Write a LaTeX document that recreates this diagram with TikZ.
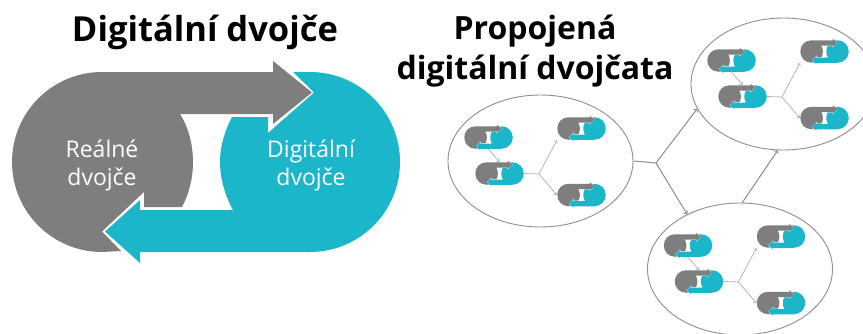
\documentclass[tikz,border=0pt]{standalone}
\usepackage{fontspec}
\setmainfont{Open Sans}
\usetikzlibrary{arrows}
\usetikzlibrary{shapes.geometric}
\definecolor{SedaDvojce}{HTML}{7F7E7F}
\definecolor{TyrkysDvojce}{HTML}{1CB6CA}
\definecolor{SedaCara}{HTML}{8C8C8C}
\definecolor{SedaSpoj}{HTML}{B4B4B4}
\tikzstyle{kruh}     =[draw=SedaCara, ellipse, line width=0.9pt, inner sep=0, minimum width=185pt, minimum height=132pt]
\tikzstyle{malyBox}  =[rectangle, inner sep=0, minimum width=49pt, minimum height=23pt]
\tikzstyle{spoj}     =[color=SedaCara, line width=1pt]
\tikzstyle{spojMaly} =[color=SedaSpoj, line width=0.8pt]
\tikzstyle{nadpis}   =[align=center, font=\bfseries\fontsize{32}{40}\selectfont]
\tikzstyle{nadpisVelky} =[align=center, font=\bfseries\fontsize{34.5}{40}\selectfont]
\tikzstyle{popisek}  =[align=center, text=white, font=\fontsize{23}{28}\selectfont]
% shape of one twin, drawn around (0,0)
\newcommand{\tvar}{
 \fill[SedaDvojce] (-104,90)--(67,90)--(67,101)--(106,69.5)--(67,38)--(67,48)--(-26,48)
  ..controls (-17,34) and (-13,16)..(-13,0)
  ..controls (-13,-16) and (-17,-32)..(-24,-45)
  --(-62,-45)--(-62,-30)--(-104,-69.5)--(-85,-89)--(-104,-90)
  arc[start angle=270,end angle=90,radius=90]--cycle;
 \fill[TyrkysDvojce] (104,90) arc[start angle=90,end angle=-90,radius=90]
  --(-66,-90)--(-66,-101)--(-101,-69.5)--(-66,-38)--(-66,-48)--(27,-48)
  ..controls (19,-34) and (14,-16)..(14,0)
  ..controls (14,16) and (19,32)..(26,45)
  --(62,45)--(62,29)--(108,69.5)--(87,90)--cycle;
}
\newcommand{\maly}[3]{
 \begin{scope}[shift={(#2,#3)},scale=.125] \tvar \end{scope}
 \node[malyBox] (#1) at (#2,#3) {};
}
% ellipse with four small twins
\newcommand{\skupina}[3]{
 \node[kruh] (#1) at (#2,#3) {};
 \begin{scope}[shift={(#2,#3)}]
 \maly{#1a}{-52}{23.5}
 \maly{#1b}{-41}{-12.5}
 \maly{#1c}{41}{32.5}
 \maly{#1d}{41}{-34}
 \coordinate (#1j) at (-1.5,-13);
 \end{scope}
 \draw[spojMaly,->] (#1a.south)--(#1b.north);
 \draw[spojMaly] (#1b.east)--(#1j);
 \draw[spojMaly,->] (#1j)--(#1c.south west);
 \draw[spojMaly,->] (#1j)--(#1d.west);
}
\begin{document}
\begin{tikzpicture}[x=1pt,y=1pt]
 \useasboundingbox (0,0) rectangle (863,333);
 \clip (0,0) rectangle (863,333);
 \node[nadpisVelky] (titulek) at (205,301) {Digitální dvojče};
 \node[nadpis] (titulekB) at (535,281.5) {Propojená\\digitální dvojčata};
 \begin{scope}[shift={(206,171)}] \tvar \end{scope}
 \node[popisek] (realne) at (102,168) {Reálné\\dvojče};
 \node[popisek] (digitalni) at (311,168) {Digitální\\dvojče};
 \skupina{A}{540.5}{172}
 \skupina{B}{783.5}{249}
 \skupina{C}{740}{64}
 \coordinate (J) at (656,170);
 \draw[spoj] (A.east)--(J);
 \draw[spoj,->] (J)--(B.196);
 \draw[spoj,->] (J)--(C.134);
 \draw[spoj,->] (C.88)--(B.265);
\end{tikzpicture}
\end{document}
